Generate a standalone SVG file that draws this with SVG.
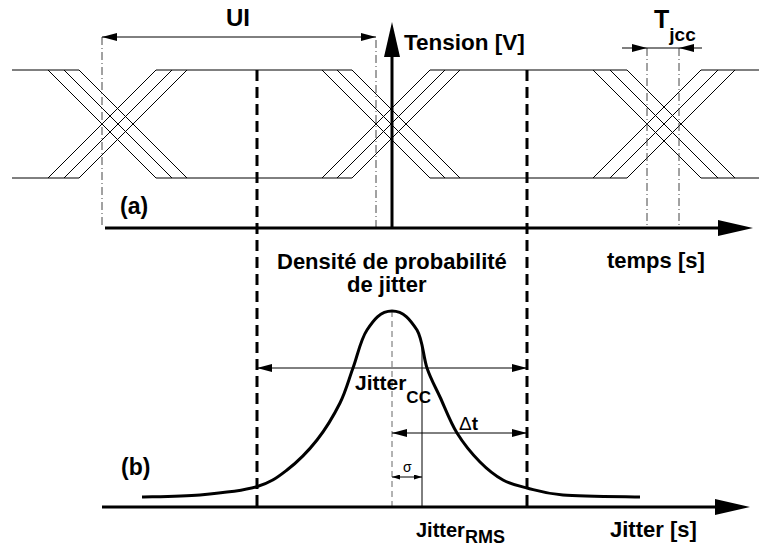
<svg xmlns="http://www.w3.org/2000/svg" width="759" height="551" viewBox="0 0 759 551">
<style>
.t{font-family:"Liberation Sans",Arial,sans-serif;font-weight:bold;fill:#000}
.n{font-family:"Liberation Sans",Arial,sans-serif;font-weight:normal;fill:#000}
.eye{stroke:#000;stroke-width:1;fill:none}
.dd{stroke:#444;stroke-width:1;stroke-dasharray:8 3 1 3;fill:none}
.thick{stroke:#000;stroke-width:3;fill:none}
.dash{stroke:#000;stroke-width:3;stroke-dasharray:11 6;fill:none}
.cdash{stroke:#666;stroke-width:1;stroke-dasharray:6 4;fill:none}
.thin{stroke:#000;stroke-width:1;fill:none}
</style>
<defs>
<marker id="a" viewBox="0 0 15 8" refX="15" refY="4" markerWidth="15" markerHeight="8" markerUnits="userSpaceOnUse" orient="auto-start-reverse"><path d="M0,0L15,4L0,8z" fill="#000"/></marker>
<marker id="s" viewBox="0 0 8 5" refX="8" refY="2.5" markerWidth="8" markerHeight="5" markerUnits="userSpaceOnUse" orient="auto-start-reverse"><path d="M0,0L8,2.5L0,5z" fill="#000"/></marker>
<marker id="big" viewBox="0 0 35 16" refX="5" refY="8" markerWidth="35" markerHeight="16" markerUnits="userSpaceOnUse" orient="auto"><path d="M0,0L35,8L0,16z" fill="#000"/></marker>
</defs>

<g id="eye" class="eye">
<path d="M12,70H79M156,70H352M430,70H627M701,70H759"/>
<path d="M12,178H79M156,178H352M430,178H627M701,178H759"/>
<path d="M48,70L156,178M64,70L172,178M79,70L187,178M48,178L156,70M64,178L172,70M79,178L187,70"/>
<path d="M322,70L430,178M337,70L445,178M352,70L460,178M322,178L430,70M337,178L445,70M352,178L460,70"/>
<path d="M593,70L701,178M610,70L718,178M627,70L735,178M593,178L701,70M610,178L718,70M627,178L735,70"/>
</g>

<g id="guides">
<path class="dd" d="M102,37V228M376,40V228M647,48V228M679,48V228"/>
<path class="dash" d="M257,70V507M527,70V507"/>
<path class="cdash" d="M392,311V507"/>
<path class="thin" d="M422,348V507"/>
</g>

<g id="axes">
<line class="thick" x1="105" y1="228" x2="723" y2="228" marker-end="url(#big)"/>
<line class="thick" x1="392" y1="228" x2="392" y2="52" marker-end="url(#big)"/>
<line class="thick" x1="102" y1="507" x2="720" y2="507" marker-end="url(#big)"/>
</g>

<g id="curve">
<path class="thick" d="M142,497 C151.7,496.7 181,496.7 200,495 C219,493.3 241.5,491.2 256,487 C270.5,482.8 276.8,477.8 287,470 C297.2,462.2 308.2,451.2 317,440 C325.8,428.8 334,415 340,403 C346,391 348.5,380.2 353,368 C357.5,355.8 360.5,339.7 367,330 C373.5,320.3 380,311 392,311 C404,311 410.5,320.3 417,330 C422.8,339.7 423.2,356.8 427,368 C430.8,379.2 435,386.2 440,397 C445,407.8 450.3,422.2 457,433 C463.7,443.8 472.3,454.2 480,462 C487.7,469.8 495.2,475.7 503,480 C510.8,484.3 517,485.5 527,488 C537,490.5 544.2,493.5 563,495 C581.8,496.5 627.2,496.7 640,497"/>
</g>

<g id="connectors" class="thin">
<line x1="102" y1="37" x2="376" y2="37" marker-start="url(#a)" marker-end="url(#a)"/>
<line x1="622" y1="48" x2="647" y2="48" marker-end="url(#a)"/>
<line x1="702" y1="48" x2="679" y2="48" marker-end="url(#a)"/>
<line x1="647" y1="48" x2="679" y2="48"/>
<line x1="257" y1="368" x2="527" y2="368" marker-start="url(#a)" marker-end="url(#a)"/>
<line x1="392" y1="433" x2="527" y2="433" marker-start="url(#a)" marker-end="url(#a)"/>
<line x1="392" y1="477" x2="422" y2="477" marker-start="url(#s)" marker-end="url(#s)"/>
</g>

<g id="labels">
<text class="t" x="226" y="26" font-size="24">UI</text>
<text class="t" x="404" y="50" font-size="22.5">Tension [V]</text>
<text class="t" x="654" y="28" font-size="25">T<tspan font-size="19" dy="13">jcc</tspan></text>
<text class="t" x="120" y="214" font-size="23">(a)</text>
<text class="t" x="607" y="268" font-size="22">temps [s]</text>
<text class="t" x="277" y="269" font-size="22">Densité de probabilité</text>
<text class="t" x="347" y="292" font-size="22">de jitter</text>
<text class="t" x="355" y="390" font-size="21">Jitter<tspan font-size="17" dy="13">CC</tspan></text>
<text class="t" x="459" y="430" font-size="19"><tspan class="n">Δ</tspan>t</text>
<text class="n" x="403" y="472" font-size="14">σ</text>
<text class="t" x="121" y="475" font-size="23">(b)</text>
<text class="t" x="416" y="537" font-size="20">Jitter<tspan font-size="18" dy="6">RMS</tspan></text>
<text class="t" x="610" y="537" font-size="22">Jitter [s]</text>
</g>
</svg>
